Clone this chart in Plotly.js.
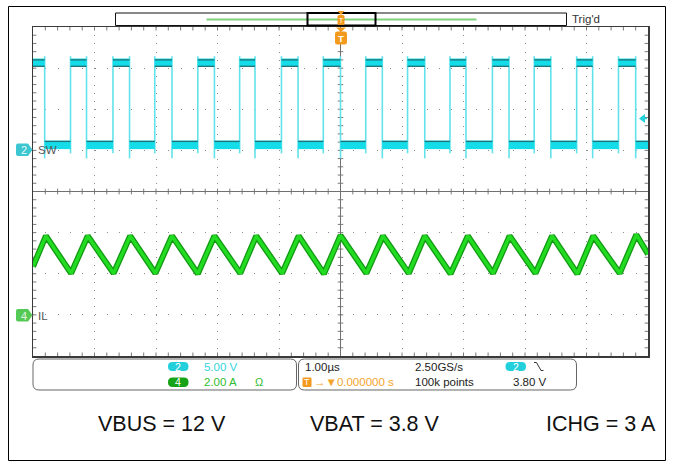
<!DOCTYPE html>
<html><head><meta charset="utf-8">
<script src="https://cdn.plot.ly/plotly-3.0.1.min.js"></script>
<style>html,body{margin:0;padding:0;background:#fff;}#chart{width:673px;height:465px;}</style>
</head><body><div id="chart"></div>
<script>
// ---------- values (time in µs, 1.00 µs/div) ----------
const timeDivs = [-5, -4, -3, -2, -1, 0, 1, 2, 3, 4, 5];
const vertDivs = [-4, -3, -2, -1, 0, 1, 2, 3, 4];

// Channel 2 : SW node, 5.00 V/div, ground marker 1 div above centre
const swVoltsPerDiv = 5.0;
const swOffsetDiv = 1.0;
const swRiseTimes = [-4.39, -3.70, -3.02, -2.32, -1.64, -0.96, -0.28, 0.41, 1.09, 1.78, 2.47, 3.15, 3.84, 4.52];
const swFallTimes = [-4.81, -4.13, -3.43, -2.74, -2.05, -1.39, -0.69, 0.00, 0.68, 1.37, 2.04, 2.74, 3.42, 4.10, 4.80];
const swHighV = 10.65;
const swLowV = 0.67;
const swHighTraceV = [11.0, 10.22];
const swLowTraceV = [1.09];
const swSpikeTopV = 11.45;
const swRiseFootV = -0.36;
const swFallFootV = -0.97;
const swTriggerV = 3.80;

// Channel 4 : inductor current IL, 2.00 A/div, ground marker 3 div below centre
const ilAmpsPerDiv = 2.0;
const ilOffsetDiv = -3.0;
const ilPeakTimes = [-4.79, -4.11, -3.42, -2.74, -2.05, -1.37, -0.68, 0.00, 0.69, 1.37, 2.07, 2.75, 3.44, 4.11, 4.81];
const ilPeakA = [3.84, 3.84, 3.84, 3.84, 3.84, 3.84, 3.84, 3.86, 3.84, 3.84, 3.84, 3.84, 3.84, 3.84, 3.90];
const ilValleyTimes = [-4.38, -3.69, -3.01, -2.32, -1.63, -0.95, -0.27, 0.42, 1.11, 1.79, 2.48, 3.17, 3.85, 4.54];
const ilValleyA = [2.02, 2.02, 2.02, 2.00, 2.02, 2.02, 2.00, 2.02, 2.02, 2.00, 2.02, 2.02, 2.00, 2.02];
const ilStartA = 2.35;
const ilEndA = 2.95;

// ---------- geometry helpers (pixel -> paper) ----------
const X0 = 33, X1 = 648, Y0 = 27, Y1 = 356;
const px = x => (x - X0) / (X1 - X0);
const py = y => (Y1 - y) / (Y1 - Y0);
const P = (x, y) => px(x).toFixed(5) + ',' + py(y).toFixed(5);

function rrPath(x0, y0, x1, y1, r) {
  return 'M' + P(x0 + r, y0) + ' L' + P(x1 - r, y0) + ' Q' + P(x1, y0) + ' ' + P(x1, y0 + r) +
    ' L' + P(x1, y1 - r) + ' Q' + P(x1, y1) + ' ' + P(x1 - r, y1) +
    ' L' + P(x0 + r, y1) + ' Q' + P(x0, y1) + ' ' + P(x0, y1 - r) +
    ' L' + P(x0, y0 + r) + ' Q' + P(x0, y0) + ' ' + P(x0 + r, y0) + ' Z';
}
function badgePath(x0, y0, x1, y1, r, a) {
  const yc = (y0 + y1) / 2;
  return 'M' + P(x0 + r, y0) + ' L' + P(x1 - a, y0) + ' L' + P(x1, yc) + ' L' + P(x1 - a, y1) +
    ' L' + P(x0 + r, y1) + ' Q' + P(x0, y1) + ' ' + P(x0, y1 - r) +
    ' L' + P(x0, y0 + r) + ' Q' + P(x0, y0) + ' ' + P(x0 + r, y0) + ' Z';
}

// ---------- SW traces ----------
const swDiv = v => swOffsetDiv + v / swVoltsPerDiv;
const events = swRiseTimes.map(t => ({t, up: true})).concat(swFallTimes.map(t => ({t, up: false})))
  .sort((a, b) => a.t - b.t);
let isHigh = !events[0].up;
const bounds = [timeDivs[0]].concat(events.map(e => e.t), [timeDivs[timeDivs.length - 1]]);
const bandX = [], bandY = [], darkX = [], darkY = [];
for (let i = 0; i < bounds.length - 1; i++) {
  const a = bounds[i], b = bounds[i + 1];
  bandX.push(a, b, null);
  bandY.push(swDiv(isHigh ? swHighV : swLowV), swDiv(isHigh ? swHighV : swLowV), null);
  (isHigh ? swHighTraceV : swLowTraceV).forEach(v => { darkX.push(a, b, null); darkY.push(swDiv(v), swDiv(v), null); });
  if (i < events.length) isHigh = events[i].up;
}
const edgeX = [], edgeY = [];
swRiseTimes.forEach(t => { edgeX.push(t, t, null); edgeY.push(swDiv(swRiseFootV), swDiv(swSpikeTopV), null); });
swFallTimes.forEach(t => { edgeX.push(t, t, null); edgeY.push(swDiv(swSpikeTopV), swDiv(swFallFootV), null); });

// ---------- IL trace ----------
const ilDiv = a => ilOffsetDiv + a / ilAmpsPerDiv;
const ilPts = [{t: timeDivs[0], a: ilStartA}, {t: timeDivs[timeDivs.length - 1], a: ilEndA}]
  .concat(ilPeakTimes.map((t, i) => ({t, a: ilPeakA[i]})), ilValleyTimes.map((t, i) => ({t, a: ilValleyA[i]})))
  .sort((p, q) => p.t - q.t);
const ilX = ilPts.map(p => p.t), ilY = ilPts.map(p => ilDiv(p.a));

const traces = [
  {x: edgeX, y: edgeY, mode: 'lines', line: {color: '#62e2ea', width: 1.6}, hoverinfo: 'skip'},
  {x: bandX, y: bandY, mode: 'lines', line: {color: '#14dce8', width: 8.5}, hoverinfo: 'skip'},
  {x: darkX, y: darkY, mode: 'lines', line: {color: '#1e7478', width: 1.3}, hoverinfo: 'skip'},
  {x: ilX, y: ilY, mode: 'lines', line: {color: '#139a13', width: 6}, hoverinfo: 'skip'},
  {x: ilX, y: ilY, mode: 'lines', line: {color: '#22dc22', width: 3.4}, hoverinfo: 'skip'}
];

// ---------- graticule ticks ----------
let tp = '';
const seg = (x0, y0, x1, y1) => { tp += 'M' + x0 + ',' + y0 + ' L' + x1 + ',' + y1 + ' '; };
const tx = 0.055, ty = 0.085;
for (let k = -24; k <= 24; k++) {
  const x = k * 0.2;
  seg(x, 4, x, 4 - ty); seg(x, -4, x, -4 + ty); seg(x, -0.07, x, 0.07);
}
for (let j = -19; j <= 19; j++) {
  const y = j * 0.2;
  seg(-5, y, -5 + tx, y); seg(5, y, 5 - tx, y); seg(-0.045, y, 0.045, y);
}
const shapes = [
  {type: 'path', xref: 'x', yref: 'y', path: tp, line: {color: '#7a7a7a', width: 1}, layer: 'below'},
  // outer frame
  {type: 'rect', xref: 'paper', yref: 'paper', x0: px(8.5), x1: px(665.5), y0: py(6.5), y1: py(460.5), line: {color: '#000', width: 1}},
  // record view bar
  {type: 'rect', xref: 'paper', yref: 'paper', x0: px(115.5), x1: px(566.5), y0: py(13), y1: py(25.5), line: {color: '#111', width: 1}},
  {type: 'line', xref: 'paper', yref: 'paper', x0: px(206.5), x1: px(476.5), y0: py(19.5), y1: py(19.5), line: {color: '#7fd07f', width: 2}},
  {type: 'rect', xref: 'paper', yref: 'paper', x0: px(307.5), x1: px(375.5), y0: py(13), y1: py(25.5), line: {color: '#000', width: 2}},
  {type: 'path', xref: 'paper', yref: 'paper', path: 'M' + P(337.5, 11) + ' L' + P(344.5, 11) + ' L' + P(341, 15) + ' Z', fillcolor: '#f39a1e', line: {width: 0}},
  {type: 'path', xref: 'paper', yref: 'paper', path: rrPath(337.5, 15, 344.5, 25, 1.5), fillcolor: '#f39a1e', line: {width: 0}},
  // trigger position marker under top edge
  {type: 'path', xref: 'paper', yref: 'paper', path: 'M' + P(336, 27.5) + ' L' + P(346, 27.5) + ' L' + P(341, 32) + ' Z', fillcolor: '#f39a1e', line: {width: 0}},
  {type: 'path', xref: 'paper', yref: 'paper', path: rrPath(335, 31.5, 347, 44.5, 2.5), fillcolor: '#f39a1e', line: {width: 0}},
  // trigger level arrow on right edge
  {type: 'path', xref: 'paper', yref: 'paper', path: 'M' + P(639, 118.5) + ' L' + P(645, 114) + ' L' + P(645, 123) + ' Z', fillcolor: '#22d3de', line: {width: 0}},
  {type: 'line', xref: 'paper', yref: 'paper', x0: px(643), x1: px(647), y0: py(118.5), y1: py(118.5), line: {color: '#22d3de', width: 1.5}},
  // channel ground badges
  {type: 'path', xref: 'paper', yref: 'paper', path: badgePath(16, 143.5, 32.5, 156, 2, 4.5), fillcolor: '#3cc7d0', line: {width: 0}},
  {type: 'path', xref: 'paper', yref: 'paper', path: badgePath(16, 309, 32.5, 321.5, 2, 4.5), fillcolor: '#55c955', line: {width: 0}},
  // info panels
  {type: 'path', xref: 'paper', yref: 'paper', path: rrPath(33, 359, 296.5, 390, 6), line: {color: '#666', width: 1}},
  {type: 'path', xref: 'paper', yref: 'paper', path: rrPath(298.5, 359, 576.5, 390, 6), line: {color: '#666', width: 1}},
  {type: 'path', xref: 'paper', yref: 'paper', path: rrPath(168, 362, 188.5, 371, 4.5), fillcolor: '#22d0dc', line: {width: 0}},
  {type: 'path', xref: 'paper', yref: 'paper', path: rrPath(168, 377.5, 188.5, 387, 4.5), fillcolor: '#17a317', line: {width: 0}},
  {type: 'path', xref: 'paper', yref: 'paper', path: rrPath(505.5, 362, 526, 371, 4.5), fillcolor: '#22d0dc', line: {width: 0}},
  {type: 'path', xref: 'paper', yref: 'paper', path: rrPath(302.5, 377.5, 311.5, 387, 1.2), fillcolor: '#f39a1e', line: {width: 0}},
  {type: 'path', xref: 'paper', yref: 'paper', path: 'M' + P(534, 362.5) + ' L' + P(536.5, 362.5) + ' L' + P(541, 370.5) + ' L' + P(543.5, 370.5), line: {color: '#333', width: 1}}
];

const F = 'Liberation Sans, Arial, sans-serif';
const ann = (x, y, text, color, size, anchor, extra) => Object.assign({
  xref: 'paper', yref: 'paper', x: px(x), y: py(y), text, showarrow: false,
  xanchor: anchor || 'left', yanchor: 'middle', font: {family: F, size: size || 11.5, color: color || '#222'}
}, extra || {});
const annotations = [
  ann(35.5, 150, 'SW', '#555', 11.5),
  ann(35.5, 315.5, 'IL', '#555', 11.5),
  ann(23.5, 150, '2', '#e6fafb', 11, 'center'),
  ann(23.5, 315.5, '4', '#e2f6e2', 11, 'center'),
  ann(178.3, 366.5, '2', '#fff', 10.5, 'center'),
  ann(202, 366.5, '5.00 V', '#33d4df', 11.5),
  ann(178.3, 382.3, '4', '#fff', 10.5, 'center'),
  ann(202, 382.3, '2.00 A', '#30bd30', 11.5),
  ann(258.5, 382.3, 'Ω', '#30bd30', 11, 'center'),
  ann(302.5, 366.5, '1.00µs', '#222', 11.5),
  ann(412.5, 366.5, '2.50GS/s', '#222', 11.5),
  ann(515.8, 366.5, '2', '#fff', 10.5, 'center'),
  ann(307, 382.3, 'T', '#fff', 9, 'center'),
  ann(311.5, 382.3, '→▼0.000000 s', '#f5a42a', 11.5),
  ann(413, 382.3, '100k points', '#222', 11.5),
  ann(510.5, 382.3, '3.80 V', '#222', 11.5),
  ann(569.5, 19, "Trig'd", '#333', 11.5),
  ann(341, 38.5, '<b>T</b>', '#fff', 9.5, 'center'),
  ann(341, 20.5, 'T', '#fff', 7, 'center'),
  ann(161.5, 424, 'VBUS = 12 V', '#111', 21.5, 'center'),
  ann(375, 424, 'VBAT = 3.8 V', '#111', 21.5, 'center'),
  ann(601, 424, 'ICHG = 3 A', '#111', 21.5, 'center')
];

const layout = {
  width: 673, height: 465,
  margin: {l: X0, r: 673 - X1, t: Y0, b: 465 - Y1, pad: 0},
  paper_bgcolor: '#fff', plot_bgcolor: '#fff',
  showlegend: false,
  xaxis: {range: [timeDivs[0], timeDivs[timeDivs.length - 1]], tickmode: 'array', tickvals: timeDivs.slice(1, -1),
    showticklabels: false, ticks: '', showgrid: true, gridcolor: '#8c8c8c', gridwidth: 1, griddash: '1px,7.22px',
    zeroline: true, zerolinecolor: '#707070', zerolinewidth: 1.5,
    showline: true, mirror: true, linecolor: '#3a3a3a', linewidth: 1.5, fixedrange: true},
  yaxis: {range: [vertDivs[0], vertDivs[vertDivs.length - 1]], tickmode: 'array', tickvals: vertDivs.slice(1, -1),
    showticklabels: false, ticks: '', showgrid: true, gridcolor: '#8c8c8c', gridwidth: 1, griddash: '1px,11.3px',
    zeroline: true, zerolinecolor: '#707070', zerolinewidth: 1.5,
    showline: true, mirror: true, linecolor: '#3a3a3a', linewidth: 1.5, fixedrange: true},
  shapes, annotations
};
Plotly.newPlot('chart', traces, layout, {displayModeBar: false, staticPlot: true});
</script></body></html>
